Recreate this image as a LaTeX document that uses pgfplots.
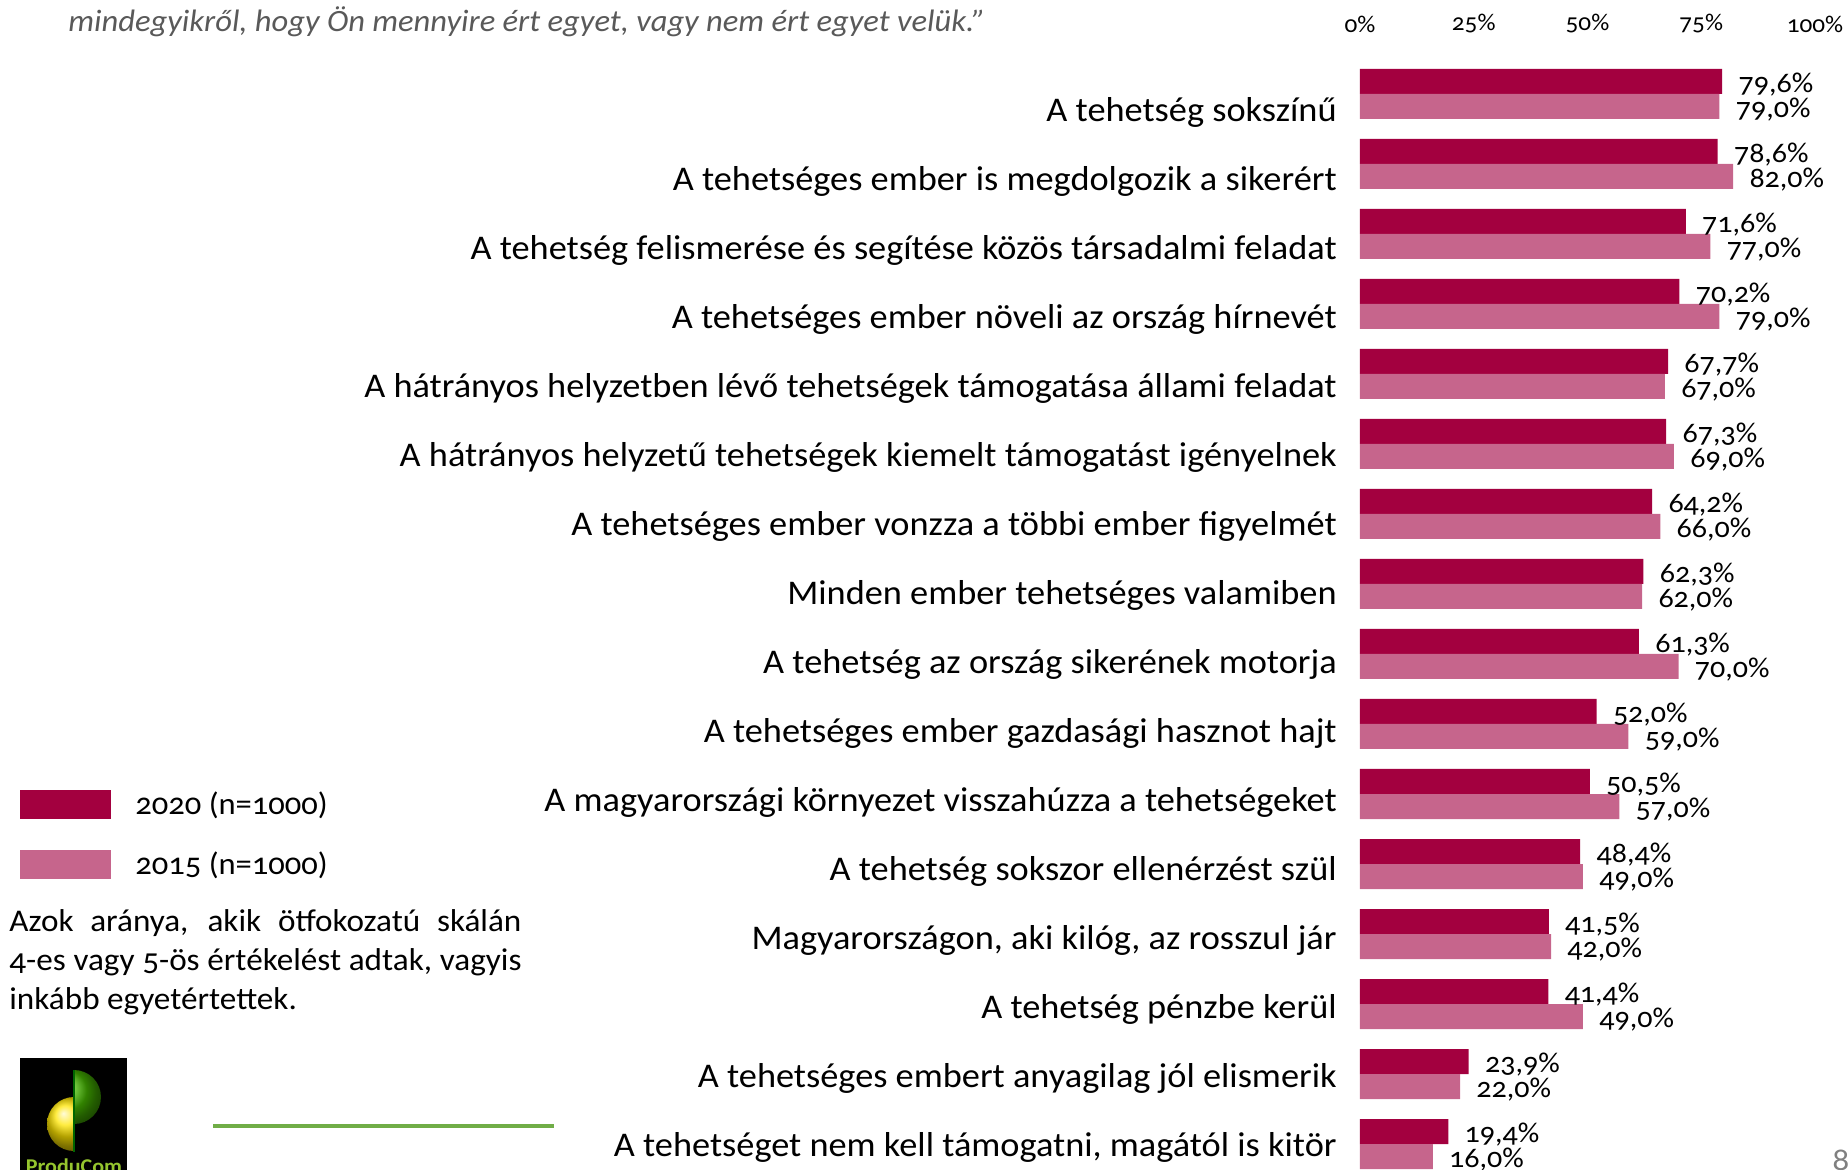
\documentclass[border=0pt]{standalone}
\usepackage{fontspec}
\setmainfont{Carlito}[Numbers=OldStyle, FakeStretch=1.05]
\usepackage{pgfplots}
\pgfplotsset{compat=1.18}
\definecolor{cA}{HTML}{A3003F}
\definecolor{cB}{HTML}{C6658C}
\definecolor{lgreen}{HTML}{70AD47}
\definecolor{tgray}{HTML}{595959}
\begin{document}
\begin{tikzpicture}
\useasboundingbox (0,0) rectangle (924pt,-585pt);
\begin{axis}[
  at={(680pt,-29.5pt)}, anchor=north west,
  scale only axis, width=227.5pt, height=560pt,
  xmin=0, xmax=100, ymin=-0.5, ymax=15.5,
  xbar, bar width=12.5pt,
  axis line style={draw=none},
  major tick length=0pt,
  clip=false,
  xtick={0,25,50,75,100},
  xticklabels={0\%,25\%,50\%,75\%,100\%},
  xticklabel pos=upper,
  x tick label style={font=\fontsize{12}{14}\selectfont, inner sep=0pt, anchor=center, yshift=17.5pt},
  ytick={0.185,1.171,2.156,3.141,4.127,5.112,6.098,7.083,8.068,9.054,10.039,11.025,12.010,12.996,13.981,14.966},
  yticklabels={{A tehetséget nem kell támogatni, magától is kitör},
    {A tehetséges embert anyagilag jól elismerik},
    {A tehetség pénzbe kerül},
    {Magyarországon, aki kilóg, az rosszul jár},
    {A tehetség sokszor ellenérzést szül},
    {A magyarországi környezet visszahúzza a tehetségeket},
    {A tehetséges ember gazdasági hasznot hajt},
    {A tehetség az ország sikerének motorja},
    {Minden ember tehetséges valamiben},
    {A tehetséges ember vonzza a többi ember figyelmét},
    {A hátrányos helyzetű tehetségek kiemelt támogatást igényelnek},
    {A hátrányos helyzetben lévő tehetségek támogatása állami feladat},
    {A tehetséges ember növeli az ország hírnevét},
    {A tehetség felismerése és segítése közös társadalmi feladat},
    {A tehetséges ember is megdolgozik a sikerért},
    {A tehetség sokszínű}},
  y tick label style={font=\fontsize{17.3}{19}\selectfont, anchor=base east, inner sep=0pt, xshift=-11.5pt, yshift=-12.5pt},
  point meta=x,
  nodes near coords={\pgfmathprintnumber{\pgfplotspointmeta}\%},
  nodes near coords style={font=\fontsize{14.3}{16}\selectfont, anchor=west, inner sep=0pt, xshift=8pt, yshift=-1.5pt},
  /pgf/number format/fixed,
  /pgf/number format/fixed zerofill,
  /pgf/number format/precision=1,
  /pgf/number format/use comma,
  /pgf/number format/assume math mode=true,
  legend style={draw=none, fill=none, inner sep=0pt, at={(-2.945,0.3473)}, anchor=north west,
    font=\fontsize{15.5}{17}\selectfont, row sep=15.5pt,
    nodes={inner sep=0pt, anchor=west},
    /tikz/every odd column/.append style={column sep=12pt}},
  legend cell align=left,
  legend image code/.code={\fill[#1,draw=none] (0pt,-7.25pt) rectangle (45.5pt,7.25pt);},
]
\addplot[fill=cA, draw=none, bar shift=6.25pt] coordinates {
 (19.4,0) (23.9,1) (41.4,2) (41.5,3) (48.4,4) (50.5,5) (52.0,6) (61.3,7)
 (62.3,8) (64.2,9) (67.3,10) (67.7,11) (70.2,12) (71.6,13) (78.6,14) (79.6,15)};
\addplot[fill=cB, draw=none, bar shift=-6.25pt] coordinates {
 (16.0,0) (22.0,1) (49.0,2) (42.0,3) (49.0,4) (57.0,5) (59.0,6) (70.0,7)
 (62.0,8) (66.0,9) (69.0,10) (67.0,11) (79.0,12) (77.0,13) (82.0,14) (79.0,15)};
\legend{2020 (n=1000), 2015 (n=1000)}
\end{axis}
\begin{scope}[x=0.5pt,y=-0.5pt]
  \node[anchor=base west, inner sep=0pt, font=\itshape\fontsize{15.5}{17}\selectfont, text=tgray] at (68,32)
    {mindegyikről, hogy Ön mennyire ért egyet, vagy nem ért egyet velük.”};
  \node[anchor=base west, inner sep=0pt, text width=256pt, align=justify, font=\fontsize{15.8}{19.5}\selectfont] at (9,931)
    {Azok aránya, akik ötfokozatú skálán\linebreak 4-es vagy 5-ös értékelést adtak, vagyis\linebreak inkább egyetértettek.};
  \draw[lgreen, line width=2pt] (213,1126) -- (554,1126);
  % logo
  \fill[black] (20,1058) rectangle (127,1175);
  \begin{scope}
    \clip (20,1058) rectangle (74,1175);
    \shade[ball color=yellow!80!orange] (74,1124) circle (27);
  \end{scope}
  \begin{scope}
    \clip (74,1058) rectangle (127,1175);
    \shade[ball color=green!45!olive] (74,1097) circle (27);
  \end{scope}
  \draw[green!40!black, line width=1pt] (74,1070) -- (74,1152);
  \node[anchor=north, inner sep=0pt, font=\bfseries\fontsize{10.5}{10.5}\selectfont, text={yellow!60!green!90!black}] at (74,1158) {ProduCom};
  \node[anchor=north west, inner sep=0pt, font=\fontsize{16}{16}\selectfont, text=gray] at (1832,1150) {8};
\end{scope}
\end{tikzpicture}
\end{document}
